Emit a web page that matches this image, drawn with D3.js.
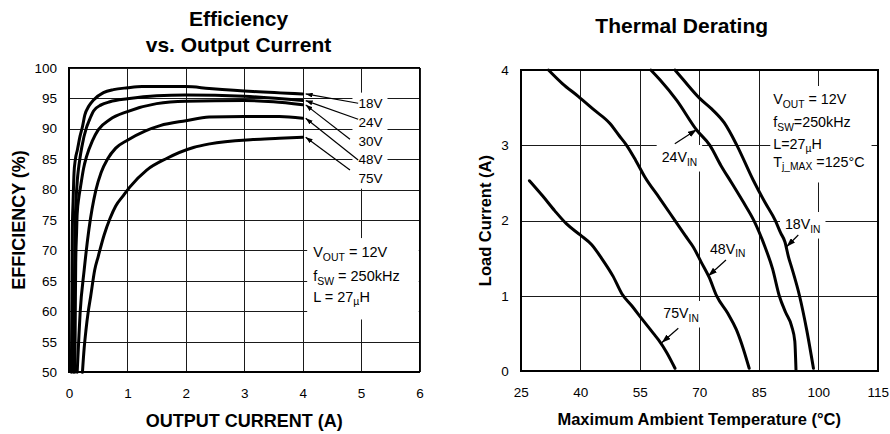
<!DOCTYPE html>
<html lang="en">
<head>
<meta charset="UTF-8">
<script src="https://d3js.org/d3.v7.min.js"></script>
<style>
    body { margin: 0; background: #fff; }
    svg { font-family: "Liberation Sans", Arial, Helvetica, sans-serif; }
    .grid .domain { display: none; }
    .grid line { stroke: #1a1a1a; stroke-width: 1; shape-rendering: crispEdges; }
    .grid text { font-size: 13.5px; fill: #000; }
    .border { fill: none; stroke: #000; stroke-width: 1.6; shape-rendering: crispEdges; }
    .curve { fill: none; stroke: #000; stroke-width: 3; stroke-linejoin: round; stroke-linecap: round; }
    .leader { stroke: #000; stroke-width: 1.2; }
    .title { font-size: 21px; font-weight: bold; text-anchor: middle; }
    .axis-title { font-weight: bold; text-anchor: middle; }
    .note { fill: #000; }
</style>
</head>
<body>
<div id="chart"></div>
<script>
// ---- Efficiency vs. Output Current ----
const effCurrentTicks = [0, 1, 2, 3, 4, 5, 6];
const effTicks = [50, 55, 60, 65, 70, 75, 80, 85, 90, 95, 100];
const effNames = ["18V", "24V", "30V", "48V", "75V"];
const eff18V = [[0.04,50],[0.05,62],[0.057,73.4],[0.07,78],[0.086,82.7],[0.11,85],[0.143,86.5],[0.19,88.8],[0.23,90.3],[0.27,92.2],[0.34,93.7],[0.42,94.7],[0.59,95.9],[0.76,96.4],[1.0,96.7],[1.25,96.9],[2.0,96.9],[2.4,96.6],[3.15,96.1],[4.0,95.7]];
const eff24V = [[0.074,50],[0.09,62],[0.103,73.4],[0.12,78],[0.143,81.6],[0.16,83.2],[0.19,85.3],[0.22,87],[0.30,90.2],[0.34,91.2],[0.42,92.9],[0.55,93.9],[0.70,94.4],[1.0,94.9],[1.5,95.4],[2.0,95.5],[3.0,95.3],[4.0,94.6]];
const eff30V = [[0.10,50],[0.108,60],[0.115,67.9],[0.13,73],[0.14,76],[0.17,78.8],[0.2,80.6],[0.25,83.5],[0.3,85.4],[0.4,88],[0.5,89.8],[0.7,91.5],[1.0,92.8],[1.5,94.1],[2.0,94.5],[3.0,94.6],[3.5,94.4],[4.0,93.9]];
const eff48V = [[0.14,50],[0.165,55],[0.19,59.7],[0.26,66.8],[0.34,73.4],[0.46,79.9],[0.55,82.8],[0.66,85.0],[0.8,86.8],[1.0,88.1],[1.3,89.6],[1.56,90.5],[2.0,91.3],[2.4,91.9],[3.0,92.0],[3.6,92.0],[4.0,91.7]];
const eff75V = [[0.23,50],[0.26,54],[0.29,56.9],[0.33,60],[0.37,62.4],[0.44,66.8],[0.5,69],[0.6,72.5],[0.7,75.2],[0.8,77.3],[0.93,79],[1.04,80.4],[1.33,83.2],[1.67,85.1],[2.13,86.9],[2.41,87.5],[3.15,88.2],[3.6,88.4],[4.0,88.6]];

// ---- Thermal Derating ----
const tempTicks = [25, 40, 55, 70, 85, 100, 115];
const loadTicks = [0, 1, 2, 3, 4];
const derateNames = ["18V", "24V", "48V", "75V"];
const derate18V = [[63.9,4],[66,3.87],[70,3.63],[73.2,3.48],[76.3,3.3],[79.5,3.0],[83.6,2.54],[86.5,2.25],[89.2,2.0],[90.5,1.84],[91.6,1.72],[92.5,1.52],[93.3,1.38],[95.3,1.0],[97.1,0.55],[98.8,0.04]];
const derate24V = [[57.8,4],[60.1,3.87],[64.3,3.6],[69.4,3.2],[72.7,3.0],[75.5,2.73],[78.2,2.5],[81.2,2.24],[83.8,2.0],[86.6,1.65],[88.5,1.36],[90.2,1.0],[91.8,0.78],[93.3,0.6],[94.1,0.4],[94.4,0.02]];
const derate48V = [[32,4],[35.5,3.82],[39.5,3.65],[43.5,3.47],[47.5,3.29],[49.8,3.13],[51.7,3.0],[54,2.8],[56.3,2.58],[60,2.3],[63.9,2.0],[66.5,1.8],[68.5,1.65],[70.5,1.45],[72.5,1.25],[74.4,1.0],[77.2,0.77],[79.4,0.55],[80.8,0.35],[82.6,0.04]];
const derate75V = [[27.2,2.53],[30.5,2.33],[33.6,2.13],[36.5,1.96],[40,1.81],[42.9,1.68],[45.4,1.50],[48.3,1.26],[50.5,1.03],[53,0.87],[55.5,0.7],[58.5,0.5],[59.7,0.42],[61.8,0.25],[63.9,0.04]];

const svg = d3.select("#chart").append("svg")
    .attr("width", 890)
    .attr("height", 434);

const defs = svg.append("defs");
defs.append("marker").attr("id", "arrSmall")
    .attr("markerUnits", "userSpaceOnUse")
    .attr("markerWidth", 7).attr("markerHeight", 5)
    .attr("refX", 7).attr("refY", 2.5).attr("orient", "auto")
    .append("path").attr("d", "M0,0L7,2.5L0,5Z");
defs.append("marker").attr("id", "arrBig")
    .attr("markerUnits", "userSpaceOnUse")
    .attr("markerWidth", 9).attr("markerHeight", 6)
    .attr("refX", 9).attr("refY", 3).attr("orient", "auto")
    .append("path").attr("d", "M0,0L9,3L0,6Z");

// text with optional subscript parts, vertically centred on y
function richText(g, x, y, parts, size) {
    const t = g.append("text").attr("class", "note")
        .attr("x", x).attr("y", y + size * 0.35)
        .attr("font-size", size);
    let shift = 0;
    parts.forEach(p => {
        const sub = Array.isArray(p);
        const s = sub ? p[0] : p;
        const dy = sub ? size * 0.25 : 0;
        t.append("tspan")
            .attr("dy", dy - shift)
            .attr("font-size", sub ? size * 0.72 : size)
            .text(s);
        shift = dy;
    });
    return t;
}

function whiteBox(g, textSel, pad) {
    const b = textSel.node().getBBox();
    g.append("rect")
        .attr("x", b.x - pad[3]).attr("y", b.y - pad[0])
        .attr("width", b.width + pad[1] + pad[3])
        .attr("height", b.height + pad[0] + pad[2])
        .attr("fill", "#fff");
}

function panel(cfg) {
    const x = d3.scaleLinear().domain(cfg.xDomain).range(cfg.xRange);
    const y = d3.scaleLinear().domain(cfg.yDomain).range(cfg.yRange);
    const h = cfg.yRange[0] - cfg.yRange[1];
    const w = cfg.xRange[1] - cfg.xRange[0];
    const root = svg.append("g");

    root.append("g").attr("class", "grid")
        .attr("transform", `translate(0,${cfg.yRange[0]})`)
        .call(d3.axisBottom(x).tickValues(cfg.xTicks).tickFormat(d3.format("d"))
            .tickSizeInner(-h).tickSizeOuter(0).tickPadding(16));
    root.append("g").attr("class", "grid")
        .attr("transform", `translate(${cfg.xRange[0]},0)`)
        .call(d3.axisLeft(y).tickValues(cfg.yTicks).tickFormat(d3.format("d"))
            .tickSizeInner(-w).tickSizeOuter(0).tickPadding(12));

    const boxes = root.append("g");
    const marks = root.append("g");
    const notes = root.append("g");

    const line = d3.line().x(d => x(d[0])).y(d => y(d[1])).curve(d3.curveMonotoneX);
    marks.selectAll("path.curve").data(cfg.series).join("path")
        .attr("class", "curve")
        .attr("d", d => line(d));

    root.append("rect").attr("class", "border")
        .attr("x", cfg.xRange[0]).attr("y", cfg.yRange[1])
        .attr("width", w).attr("height", h);

    root.append("text").attr("class", "axis-title")
        .attr("font-size", cfg.axisSize)
        .attr("x", (cfg.xRange[0] + cfg.xRange[1]) / 2).attr("y", cfg.xTitleY)
        .text(cfg.xTitle);
    root.append("text").attr("class", "axis-title")
        .attr("font-size", cfg.axisSize)
        .attr("transform", `translate(${cfg.yTitleX},${(cfg.yRange[0] + cfg.yRange[1]) / 2}) rotate(-90)`)
        .text(cfg.yTitle);

    cfg.titles.forEach(t => {
        root.append("text").attr("class", "title")
            .attr("x", t.x).attr("y", t.y).text(t.text);
    });

    return { x, y, boxes, marks, notes };
}

// ---------- left panel ----------
const left = panel({
    xDomain: [0, 6], xRange: [69, 419.5],
    yDomain: [50, 100], yRange: [372.3, 67.7],
    xTicks: effCurrentTicks, yTicks: effTicks,
    series: [eff18V, eff24V, eff30V, eff48V, eff75V],
    xTitle: "OUTPUT CURRENT (A)", yTitle: "EFFICIENCY (%)",
    axisSize: 18, xTitleY: 426.5, yTitleX: 25,
    titles: [{ text: "Efficiency", x: 238.5, y: 25.5 }, { text: "vs. Output Current", x: 238.5, y: 51.5 }]
});

const effSeries = [eff18V, eff24V, eff30V, eff48V, eff75V];
const effLabelAt = [[4.955, 94.22], [4.955, 91.1], [4.955, 87.98], [4.955, 85.03], [4.955, 81.9]];
const effLeaderFrom = [[4.95, 94.17], [4.95, 91.54], [4.81, 88.26], [4.95, 84.86], [4.81, 83.2]];

effNames.forEach((n, i) => {
    const t = richText(left.notes, left.x(effLabelAt[i][0]), left.y(effLabelAt[i][1]), [n], 13.5);
    whiteBox(left.boxes, t, [3, 5, 3, 6]);
    const end = effSeries[i][effSeries[i].length - 1];
    left.notes.append("line").attr("class", "leader")
        .attr("x1", left.x(effLeaderFrom[i][0])).attr("y1", left.y(effLeaderFrom[i][1]))
        .attr("x2", left.x(end[0]) + 3).attr("y2", left.y(end[1]))
        .attr("marker-end", "url(#arrSmall)");
});

const effInfo = left.notes.append("g");
richText(effInfo, left.x(4.18), left.y(69.75), ["V", ["OUT"], " = 12V"], 14.5);
richText(effInfo, left.x(4.18), left.y(65.8), ["f", ["SW"], " = 250kHz"], 14.5);
richText(effInfo, left.x(4.18), left.y(62.4), ["L = 27", ["µ"], "H"], 14.5);
whiteBox(left.boxes, effInfo, [6, 19, 12, 6]);

// ---------- right panel ----------
const right = panel({
    xDomain: [25, 115], xRange: [520.7, 877.7],
    yDomain: [0, 4], yRange: [371.3, 70],
    xTicks: tempTicks, yTicks: loadTicks,
    series: [derate18V, derate24V, derate48V, derate75V],
    xTitle: "Maximum Ambient Temperature (°C)", yTitle: "Load Current (A)",
    axisSize: 16.5, xTitleY: 425, yTitleX: 491,
    titles: [{ text: "Thermal Derating", x: 681.7, y: 33.3 }]
});

const derateLabelAt = [[91.63, 1.955], [60.54, 2.845], [72.72, 1.626], [60.95, 0.774]];
const derateArrowFrom = [[94.98, 1.81], [63.85, 3.02], [76.75, 1.478], [64.73, 0.571]];
const derateArrowTo = [[92.03, 1.654], [69.4, 3.21], [72.29, 1.265], [60.54, 0.38]];

derateNames.forEach((n, i) => {
    const t = richText(right.notes, right.x(derateLabelAt[i][0]), right.y(derateLabelAt[i][1]), [n, ["IN"]], 14.2);
    whiteBox(right.boxes, t, [4, 5, 4, 5]);
    right.notes.append("line").attr("class", "leader")
        .attr("x1", right.x(derateArrowFrom[i][0])).attr("y1", right.y(derateArrowFrom[i][1]))
        .attr("x2", right.x(derateArrowTo[i][0])).attr("y2", right.y(derateArrowTo[i][1]))
        .attr("marker-end", "url(#arrBig)");
});

const derateInfo = right.notes.append("g");
richText(derateInfo, right.x(88.68), right.y(3.615), ["V", ["OUT"], " = 12V"], 14.3);
richText(derateInfo, right.x(88.68), right.y(3.31), ["f", ["SW"], "=250kHz"], 14.3);
richText(derateInfo, right.x(88.68), right.y(3.02), ["L=27", ["µ"], "H"], 14.3);
richText(derateInfo, right.x(88.68), right.y(2.78), ["T", ["j_MAX"], " =125°C"], 14.3);
whiteBox(right.boxes, derateInfo, [5, 7, 10, 3]);
</script>
</body>
</html>
